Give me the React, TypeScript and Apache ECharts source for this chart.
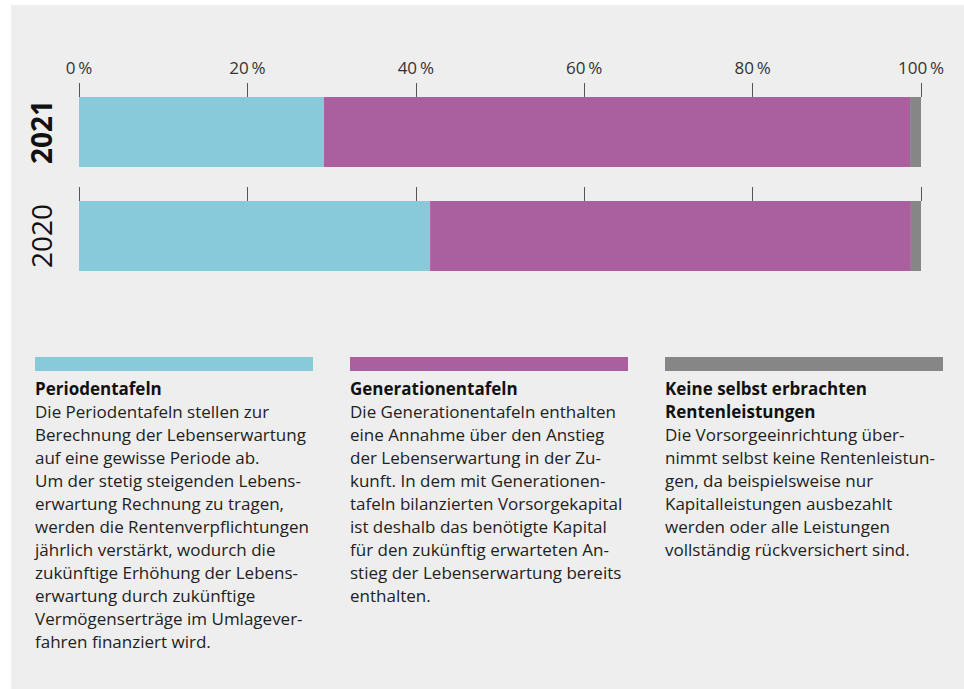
import React, { useEffect, useRef } from "react";
import * as echarts from "echarts";

const categories = ["2021", "2020"];
const periodentafeln = [29.1, 41.7];
const generationentafeln = [69.6, 57.1];
const keineSelbst = [1.3, 1.2];
const xTicks = [0, 20, 40, 60, 80, 100];

const seriesNames = ["Periodentafeln", "Generationentafeln", "Keine selbst erbrachten Rentenleistungen"];
const colors = ["#88c9da", "#aa609f", "#868686"];

const legendTitles = [
  "Periodentafeln",
  "Generationentafeln",
  "Keine selbst erbrachten\nRentenleistungen",
];
const legendTexts = [
  [
    "Die Periodentafeln stellen zur",
    "Berechnung der Lebenserwartung",
    "auf eine gewisse Periode ab.",
    "Um der stetig steigenden Lebens-",
    "erwartung Rechnung zu tragen,",
    "werden die Rentenverpflichtungen",
    "jährlich verstärkt, wodurch die",
    "zukünftige Erhöhung der Lebens-",
    "erwartung durch zukünftige",
    "Vermögenserträge im Umlagever-",
    "fahren finanziert wird.",
  ],
  [
    "Die Generationentafeln enthalten",
    "eine Annahme über den Anstieg",
    "der Lebenserwartung in der Zu-",
    "kunft. In dem mit Generationen-",
    "tafeln bilanzierten Vorsorgekapital",
    "ist deshalb das benötigte Kapital",
    "für den zukünftig erwarteten An-",
    "stieg der Lebenserwartung bereits",
    "enthalten.",
  ],
  [
    "Die Vorsorgeeinrichtung über-",
    "nimmt selbst keine Rentenleistun-",
    "gen, da beispielsweise nur",
    "Kapitalleistungen ausbezahlt",
    "werden oder alle Leistungen",
    "vollständig rückversichert sind.",
  ],
];

const FONT = "'Open Sans', 'Noto Sans', sans-serif";

export default function App() {
  const ref = useRef<HTMLDivElement>(null);
  useEffect(() => {
    if (!ref.current) return;
    const chart = echarts.init(ref.current, null, { renderer: "svg" });
    const valueData = [periodentafeln, generationentafeln, keineSelbst];
    const grids = [
      { left: 79, right: 43, top: 97, height: 70 },
      { left: 79, right: 43, top: 201, height: 70 },
    ];
    const xAxes = grids.map((_, gi) => ({
      type: "value",
      gridIndex: gi,
      position: "top",
      min: 0,
      max: 100,
      interval: 20,
      axisLine: { show: false },
      splitLine: { show: false },
      axisTick: { show: true, length: 14, lineStyle: { color: "#555", width: 1 } },
      axisLabel: {
        show: gi === 0,
        margin: 21,
        fontSize: 17,
        color: "#333",
        fontFamily: FONT,
        formatter: (v: number) => (xTicks.includes(v) ? v + "\u2009%" : ""),
      },
    }));
    const yAxes = grids.map((_, gi) => ({
      type: "category",
      gridIndex: gi,
      data: [categories[gi]],
      axisLine: { show: false },
      axisTick: { show: false },
      axisLabel: {
        rotate: 90,
        margin: 24,
        fontSize: 28,
        fontWeight: gi === 0 ? "bold" : "normal",
        color: "#111",
        fontFamily: FONT,
      },
    }));
    const series: any[] = [];
    grids.forEach((_, gi) => {
      seriesNames.forEach((name, si) => {
        series.push({
          type: "bar",
          name,
          xAxisIndex: gi,
          yAxisIndex: gi,
          stack: "s" + gi,
          barWidth: "100%",
          itemStyle: { color: colors[si] },
          data: [valueData[si][gi]],
        });
      });
    });

    const legendX = [35, 350, 665];
    const graphics: any[] = [
      {
        type: "rect",
        z: -10,
        shape: { x: 11, y: 5, width: 953, height: 684 },
        style: { fill: "#eeeeee" },
        silent: true,
      },
    ];
    legendX.forEach((x, i) => {
      graphics.push({
        type: "rect",
        shape: { x, y: 357, width: 278, height: 14 },
        style: { fill: colors[i] },
      });
      const titleLines = legendTitles[i].split("\n").length;
      graphics.push({
        type: "text",
        x,
        y: 377,
        style: {
          text: legendTitles[i],
          fontFamily: FONT,
          fontSize: 17,
          fontWeight: "bold",
          lineHeight: 23,
          fill: "#111",
          verticalAlign: "top",
          align: "left",
        },
      });
      graphics.push({
        type: "text",
        x,
        y: 377 + 23 * titleLines,
        style: {
          text: legendTexts[i].join("\n"),
          fontFamily: FONT,
          fontSize: 17,
          lineHeight: 23,
          fill: "#222",
          verticalAlign: "top",
          align: "left",
        },
      });
    });

    chart.setOption({
      animation: false,
      backgroundColor: "#ffffff",
      grid: grids,
      xAxis: xAxes,
      yAxis: yAxes,
      series,
      graphic: graphics,
    });
    return () => chart.dispose();
  }, []);
  return (
    <div
      ref={ref}
      style={{ position: "fixed", left: 0, top: 0, width: 964, height: 689 }}
    />
  );
}
